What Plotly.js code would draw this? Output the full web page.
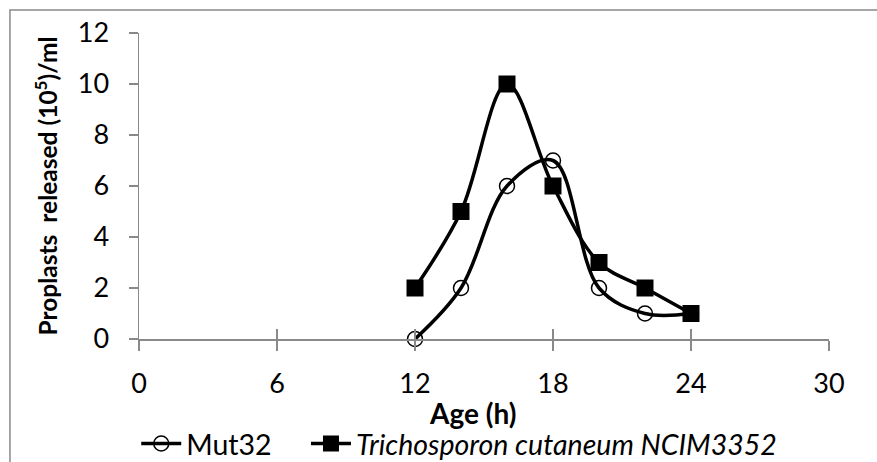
<!DOCTYPE html>
<html>
<head>
<meta charset="utf-8">
<script src="https://cdn.plot.ly/plotly-3.0.1.min.js"></script>
<style>html,body{margin:0;padding:0;background:#fff;}#chart{width:877px;height:462px;}</style>
</head>
<body>
<div id="chart"></div>
<script>
const ageHours = [12, 14, 16, 18, 20, 22, 24];
const mut32 = [0, 2, 6, 7, 2, 1, 1];
const trichosporon = [2, 5, 10, 6, 3, 2, 1];
const xTicks = [0, 6, 12, 18, 24, 30];
const yTicks = [0, 2, 4, 6, 8, 10, 12];
const seriesNames = ['Mut32', '<i>Trichosporon cutaneum NCIM3352</i>'];
const xTitle = '<b>Age (h)</b>';
const yTitle = '<b>Proplasts\u00a0 released (10<sup>5</sup>)/ml</b>';

const FONT = 'Lato, "Open Sans", sans-serif';
const GRAY = '#898989';

const traces = [
  {
    x: ageHours, y: mut32, name: seriesNames[0], type: 'scatter', mode: 'lines+markers',
    line: {color: '#000', width: 3.5, shape: 'spline', smoothing: 1},
    marker: {symbol: 'circle-open', size: 15, color: '#000', line: {color: '#000', width: 1.5}},
    cliponaxis: false, legend: 'legend'
  },
  {
    x: ageHours, y: trichosporon, name: seriesNames[1], type: 'scatter', mode: 'lines+markers',
    line: {color: '#000', width: 3.5, shape: 'spline', smoothing: 1},
    marker: {symbol: 'square', size: 17, color: '#000'},
    cliponaxis: false, legend: 'legend2'
  },
  {
    x: [0], y: [0], xaxis: 'x2', yaxis: 'y', mode: 'markers', showlegend: false,
    marker: {opacity: 0}, hoverinfo: 'skip'
  }
];

const legendBase = {
  orientation: 'h', xanchor: 'left', y: (339 - 444) / 306, yanchor: 'middle',
  font: {family: FONT, size: 28.5, color: '#000'}, itemwidth: 40,
  bgcolor: 'rgba(0,0,0,0)'
};

const layout = {
  width: 877, height: 462,
  margin: {l: 139, r: 48, t: 33, b: 123, pad: 0, autoexpand: false},
  paper_bgcolor: '#fff', plot_bgcolor: '#fff',
  font: {family: FONT, size: 27, color: '#000'},
  showlegend: true,
  legend: Object.assign({}, legendBase, {x: -0.004}),
  legend2: Object.assign({}, legendBase, {x: 0.242}),
  xaxis: {
    range: [0, 30], tickvals: xTicks, ticktext: xTicks.map(String),
    showgrid: false, zeroline: false, showline: true, linecolor: GRAY, linewidth: 1.5,
    ticks: 'outside', ticklen: 10, tickwidth: 1.5, tickcolor: GRAY,
    ticklabelstandoff: 10, automargin: false,
    tickfont: {family: FONT, size: 27, color: '#000'}
  },
  xaxis2: {
    range: [0, 30], overlaying: 'x', side: 'bottom', anchor: 'y', tickvals: xTicks,
    showticklabels: false, showgrid: false, zeroline: false, showline: false,
    ticks: 'inside', ticklen: 10, tickwidth: 1.5, tickcolor: GRAY
  },
  yaxis: {
    range: [0, 12], tickvals: yTicks, ticktext: yTicks.map(String),
    showgrid: false, zeroline: false, showline: true, linecolor: GRAY, linewidth: 1.5,
    ticks: 'outside', ticklen: 9, tickwidth: 1.5, tickcolor: GRAY,
    ticklabelstandoff: 14, automargin: false,
    tickfont: {family: FONT, size: 27, color: '#000'},
    title: {text: yTitle, font: {family: FONT, size: 24.5, color: '#000'}, standoff: 13}
  },
  annotations: [
    {text: xTitle, xref: 'paper', yref: 'paper', x: 0.483, y: (339 - 413) / 306,
     xanchor: 'center', yanchor: 'middle', showarrow: false,
     font: {family: FONT, size: 28, color: '#000'}}
  ],
  shapes: [
    {type: 'rect', xref: 'paper', yref: 'paper', x0: -0.187, x1: 1.5, y0: -1, y1: 1.075,
     line: {color: GRAY, width: 1.5}, fillcolor: 'rgba(0,0,0,0)', layer: 'below'}
  ]
};

Plotly.newPlot('chart', traces, layout, {staticPlot: true, displayModeBar: false});
</script>
</body>
</html>
